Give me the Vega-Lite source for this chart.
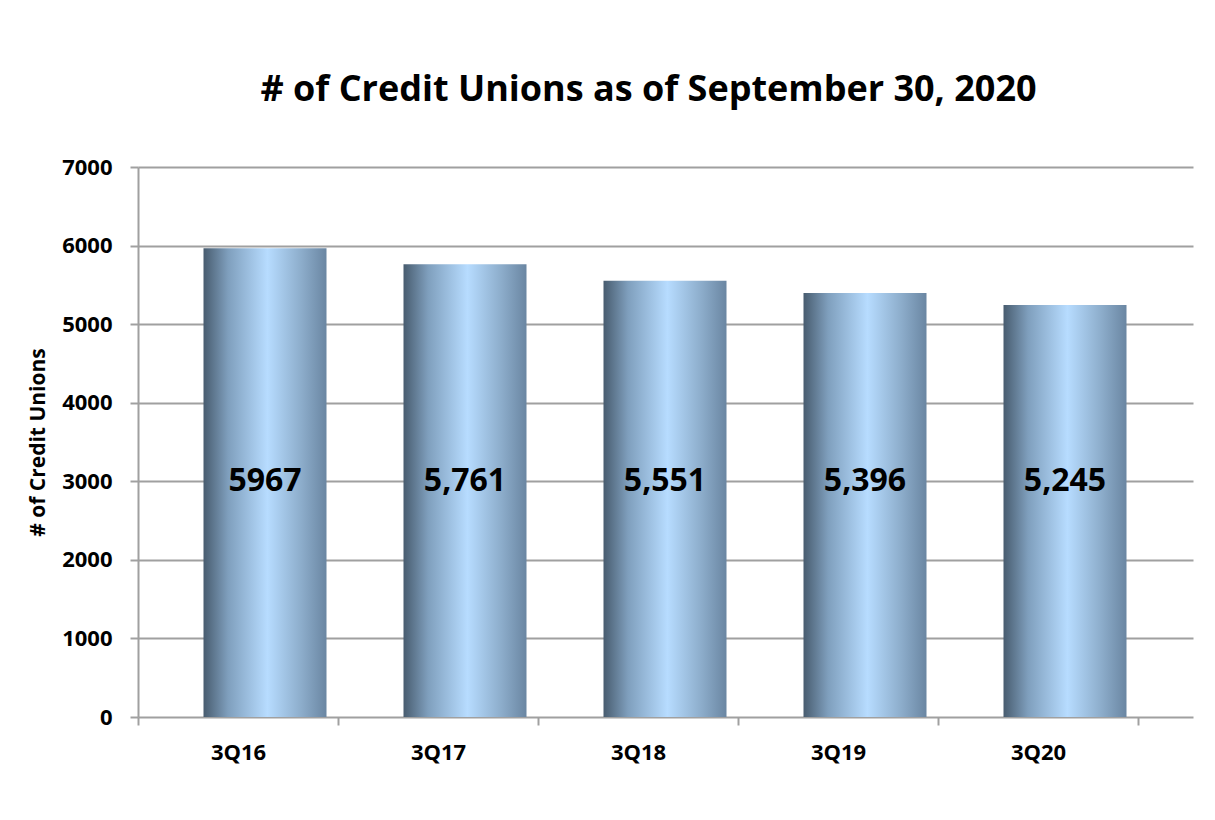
{
  "$schema": "https://vega.github.io/schema/vega-lite/v6.json",
  "autosize": "none",
  "width": 1055,
  "height": 550,
  "padding": {"left": 138, "top": 167, "right": 22, "bottom": 103},
  "background": "white",
  "config": {
    "view": {"stroke": null},
    "font": "Open Sans"
  },
  "title": {
    "text": "# of Credit Unions as of September 30, 2020",
    "font": "Open Sans",
    "fontSize": 36,
    "fontWeight": "bold",
    "color": "black",
    "anchor": "middle",
    "frame": "group",
    "dx": -17,
    "offset": 47
  },
  "data": {
    "values": [
      {"quarter": "3Q16", "count": 5967, "label": "5967"},
      {"quarter": "3Q17", "count": 5761, "label": "5,761"},
      {"quarter": "3Q18", "count": 5551, "label": "5,551"},
      {"quarter": "3Q19", "count": 5396, "label": "5,396"},
      {"quarter": "3Q20", "count": 5245, "label": "5,245"}
    ]
  },
  "encoding": {
    "x": {
      "field": "quarter",
      "type": "ordinal",
      "sort": null,
      "scale": {"paddingInner": 0, "paddingOuter": 0.1375, "align": 0},
      "axis": {
        "title": null,
        "domain": false,
        "labelAngle": 0,
        "labelFont": "Open Sans",
        "labelFontSize": 22,
        "labelFontWeight": "bold",
        "labelColor": "black",
        "labelPadding": 17,
        "tickBand": "extent",
        "tickColor": "#a0a0a0",
        "tickWidth": 2,
        "tickSize": 8
      }
    }
  },
  "layer": [
    {
      "mark": {
        "type": "bar",
        "width": 123,
        "xOffset": 27,
        "color": {
          "x1": 0, "y1": 0, "x2": 1, "y2": 0,
          "gradient": "linear",
          "stops": [
            {"offset": 0, "color": "#485c6f"},
            {"offset": 0.2, "color": "#7f9fbd"},
            {"offset": 0.52, "color": "#b7dcff"},
            {"offset": 0.8, "color": "#8cacca"},
            {"offset": 1, "color": "#6a86a2"}
          ]
        }
      },
      "encoding": {
        "y": {
          "field": "count",
          "type": "quantitative",
          "scale": {"domain": [0, 7000], "nice": false},
          "axis": {
            "title": "# of Credit Unions",
            "titleFont": "Open Sans",
            "titleFontSize": 21,
            "titleFontWeight": "bold",
            "titleColor": "black",
            "titlePadding": 13,
            "values": [0, 1000, 2000, 3000, 4000, 5000, 6000, 7000],
            "format": "d",
            "labelFont": "Open Sans",
            "labelFontSize": 22,
            "labelFontWeight": "bold",
            "labelColor": "black",
            "labelPadding": 18,
            "domainColor": "#a0a0a0",
            "domainWidth": 2,
            "tickColor": "#a0a0a0",
            "tickWidth": 2,
            "tickSize": 8,
            "grid": true,
            "gridColor": "#a0a0a0",
            "gridWidth": 2
          }
        }
      }
    },
    {
      "mark": {
        "type": "text",
        "xOffset": 27,
        "font": "Open Sans",
        "fontSize": 32,
        "fontWeight": "bold",
        "color": "black",
        "baseline": "middle",
        "align": "center"
      },
      "encoding": {
        "y": {"datum": 3000, "type": "quantitative"},
        "text": {"field": "label"}
      }
    }
  ]
}
